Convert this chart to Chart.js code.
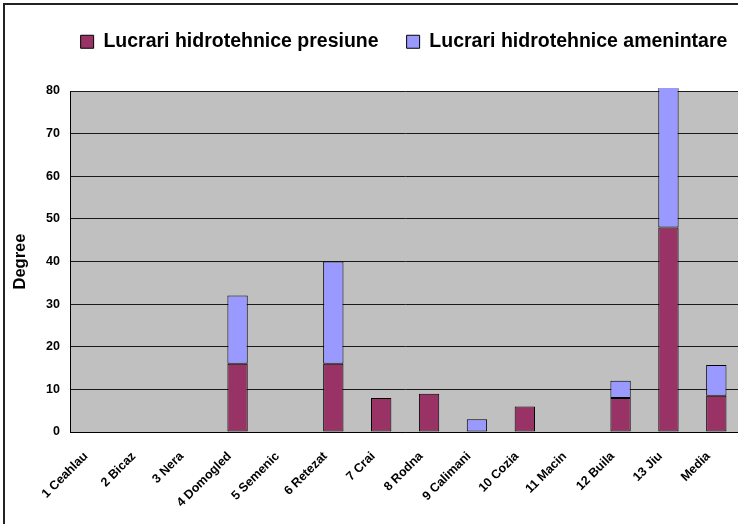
<!DOCTYPE html>
<html>
<head>
<meta charset="utf-8">
<script src="https://cdn.jsdelivr.net/npm/chart.js@4"></script>
<style>
  html, body { margin: 0; padding: 0; background: #fff; overflow: hidden; }
  #wrap { position: relative; width: 738px; height: 524px; overflow: hidden; }
  #chart { position: absolute; left: 0; top: 0; }
  #frame { position: absolute; left: 3px; top: 3px; width: 800px; height: 600px; border: 2px solid #222; pointer-events: none; }
</style>
</head>
<body>
<div id="wrap">
  <canvas id="chart" width="744" height="524"></canvas>
  <div id="frame"></div>
</div>
<script>
// categories and series
const parks = ['1 Ceahlau', '2 Bicaz', '3 Nera', '4 Domogled', '5 Semenic', '6 Retezat', '7 Crai',
    '8 Rodna', '9 Calimani', '10 Cozia', '11 Macin', '12 Buila', '13 Jiu', 'Media'];
const presiune = [null, null, null, 16, null, 16, 8, 9, null, 6, null, 8, 48, 8.5];
const amenintare = [null, null, null, 16, null, 24, null, null, 3, null, null, 4, 46, 7.2];
const yTicks = [0, 10, 20, 30, 40, 50, 60, 70, 80];

const FONT = "'Liberation Sans', Arial, sans-serif";

// grey plot background
const plotBg = {
    id: 'plotBg',
    beforeDraw(chart) {
        const { ctx, chartArea: a } = chart;
        ctx.save();
        ctx.fillStyle = '#c0c0c0';
        ctx.fillRect(a.left, a.top, a.right - a.left, a.bottom - a.top);
        ctx.restore();
    }
};

// legend: fixed height above plot, shifted to sit like the original
const legendPlace = {
    id: 'legendPlace',
    beforeLayout(chart) {
        const lg = chart.legend;
        if (lg && !lg._patched) {
            const fit = lg.fit;
            lg.fit = function () {
                fit.call(this);
                this.height = 91;
            };
            lg._patched = true;
        }
    },
    afterLayout(chart) {
        const lg = chart.legend;
        lg.left += 33;
        lg.right += 33;
        lg.top += 4;
    }
};

new Chart(document.getElementById('chart'), {
    type: 'bar',
    data: {
        labels: parks,
        datasets: [{
            label: 'Lucrari hidrotehnice presiune',
            data: presiune,
            backgroundColor: '#993366',
            borderColor: '#000',
            borderWidth: 1,
            borderSkipped: false
        }, {
            label: 'Lucrari hidrotehnice amenintare',
            data: amenintare,
            backgroundColor: '#9999ff',
            borderColor: '#000',
            borderWidth: 1,
            borderSkipped: false,
            clip: { left: 0, top: 3, right: 0, bottom: 0 }
        }]
    },
    options: {
        responsive: false,
        animation: false,
        devicePixelRatio: 1,
        layout: { padding: { left: 0, right: 2, top: 0, bottom: 0 } },
        datasets: {
            bar: { categoryPercentage: 0.85, barPercentage: 0.5 }
        },
        plugins: {
            tooltip: { enabled: false },
            legend: {
                position: 'top',
                align: 'center',
                labels: {
                    color: '#000',
                    font: { family: FONT, size: 19.5, weight: 'bold' },
                    boxWidth: 13,
                    boxHeight: 13,
                    padding: 28
                }
            }
        },
        scales: {
            x: {
                stacked: true,
                grid: { display: false, drawTicks: false },
                border: { display: true, color: '#000', width: 1 },
                ticks: {
                    color: '#000',
                    font: { family: FONT, size: 12.5, weight: 'bold' },
                    minRotation: 45,
                    maxRotation: 45,
                    padding: 17,
                    labelOffset: -8,
                    autoSkip: false
                },
                afterFit(scale) { scale.height = 92; }
            },
            y: {
                stacked: true,
                min: yTicks[0],
                max: yTicks[yTicks.length - 1],
                afterBuildTicks(scale) { scale.ticks = yTicks.map(v => ({ value: v })); },
                grid: { color: '#1a1a1a', lineWidth: 1, drawTicks: false },
                border: { display: true, color: '#000', width: 1 },
                ticks: {
                    color: '#000',
                    font: { family: FONT, size: 12.5, weight: 'bold' },
                    padding: 10
                },
                title: {
                    display: true,
                    text: 'Degree',
                    color: '#000',
                    font: { family: FONT, size: 16.5, weight: 'bold' },
                    padding: { top: 11, bottom: 0 }
                },
                afterFit(scale) { scale.width = 70; }
            }
        }
    },
    plugins: [plotBg, legendPlace]
});
</script>
</body>
</html>
